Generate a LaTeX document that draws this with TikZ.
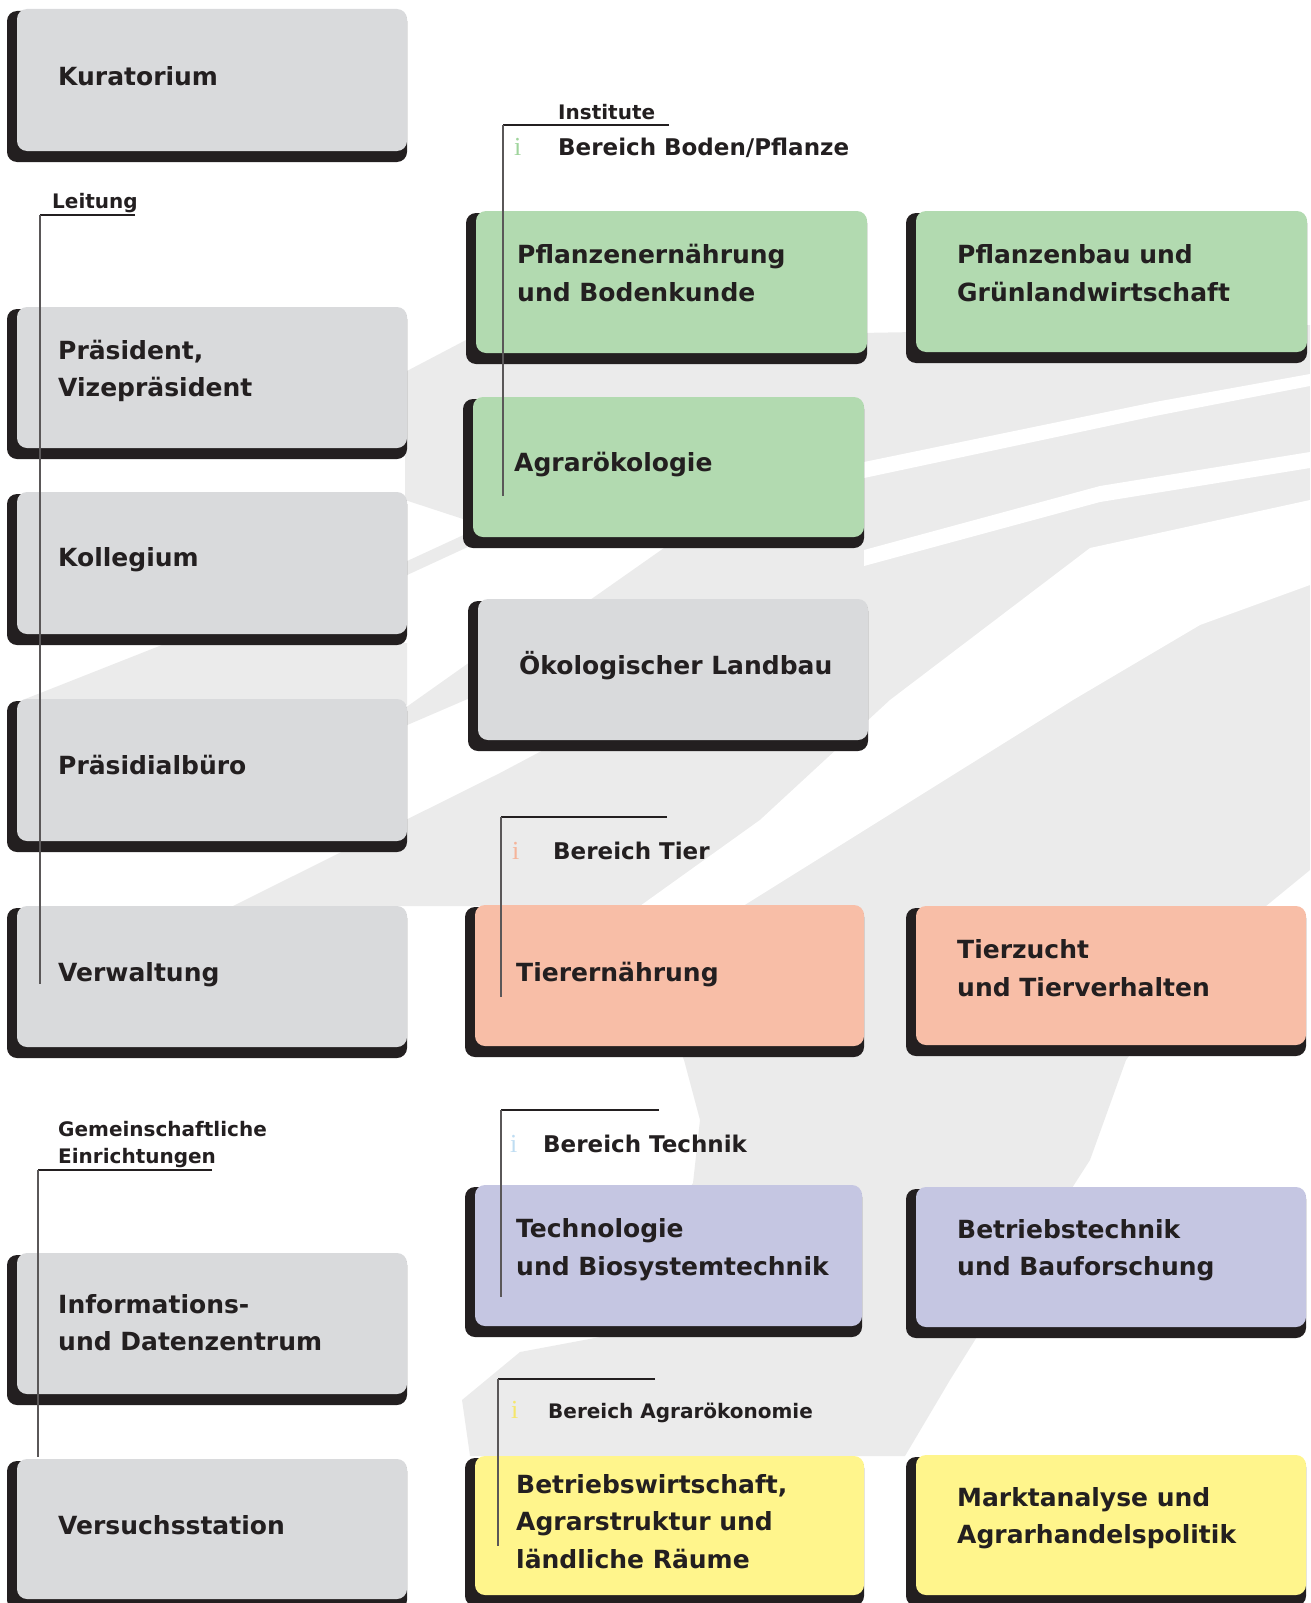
\documentclass[tikz,border=0pt]{standalone}
\usepackage{fontspec}
\setmainfont{DejaVu Sans}
\newfontfamily\ifont{Liberation Serif}
\definecolor{ink}{HTML}{231F20}
\definecolor{boxgray}{HTML}{D9DADC}
\definecolor{boxgreen}{HTML}{B2DAB0}
\definecolor{boxsalmon}{HTML}{F8BEA7}
\definecolor{boxlav}{HTML}{C5C6E2}
\definecolor{boxyel}{HTML}{FFF58C}
\definecolor{bggray}{HTML}{EBEBEB}
\definecolor{igreen}{HTML}{9FD49C}
\definecolor{isalmon}{HTML}{F5B49A}
\definecolor{iblue}{HTML}{BFDDF2}
\definecolor{iyel}{HTML}{F5E66A}
\tikzset{
  shadowbox/.style={fill=ink, rounded corners=10pt},
  btext/.style={font=\bfseries\fontsize{25}{37.3}\selectfont, text=ink, anchor=base west, inner sep=0pt, align=left},
  ltext/.style={font=\bfseries\fontsize{20}{27}\selectfont, text=ink, anchor=base west, inner sep=0pt, align=left},
  htext/.style={font=\bfseries\fontsize{23}{27}\selectfont, text=ink, anchor=base west, inner sep=0pt},
  atext/.style={font=\bfseries\fontsize{20}{27}\selectfont, text=ink, anchor=base west, inner sep=0pt},
  itext/.style={font=\ifont\fontsize{26}{26}\selectfont, anchor=base west, inner sep=0pt},
  brk/.style={draw=ink, line width=1.6pt},
  brkv/.style={draw=ink!75, line width=1.2pt},
  bg/.style={fill=bggray},
  streak/.style={fill=white}
}
% #8 = baseline of the LAST text line
\newcommand\orgbox[8]{%
  \fill[shadowbox] (#2-10,#3+2) rectangle (#4,#5+11);
  \fill[#6, rounded corners=10pt] (#2,#3) rectangle (#4,#5);
  \node[btext] (#1) at (#2+41,#8) {#7};
}
\begin{document}
\begin{tikzpicture}[x=1pt,y=-1pt]
\useasboundingbox (0,0) rectangle (1310,1603);
% ---------- background brush stroke ----------
\fill[bg] (405,372) -- (466,340) -- (1310,325) -- (1310,870) -- (1200,960) -- (1126,1060)
  -- (1090,1160) -- (1000,1300) -- (950,1380) -- (905,1456) -- (470,1456) -- (462,1400)
  -- (520,1352) -- (600,1337) -- (650,1250) -- (693,1183) -- (700,1120) -- (684,1060)
  -- (620,906) -- (233,906) -- (500,773) -- (600,720) -- (600,640) -- (590,600)
  -- (664,548) -- (466,520) -- (405,500) -- cycle;
% thin bristle stripes at the left end
\fill[bg] (405,562) -- (470,532) -- (470,546) -- (405,576) -- cycle;
\fill[bg] (405,708) -- (470,662) -- (470,698) -- (405,726) -- cycle;
\fill[bg] (10,705) -- (167,643) -- (407,643) -- (407,705) -- cycle;
% white streaks through the stroke
\fill[streak] (864,462) -- (1155,402) -- (1310,374) -- (1310,386) -- (1155,416) -- (864,478) -- cycle;
\fill[streak] (864,550) -- (1100,486) -- (1310,452) -- (1310,468) -- (1100,502) -- (864,566) -- cycle;
\fill[streak] (640,906) -- (760,820) -- (890,700) -- (1090,548) -- (1310,500) -- (1310,585)
  -- (1200,625) -- (1073,700) -- (743,906) -- cycle;

% ---------- left column ----------
\orgbox{kur}{17}{9}{407}{151}{boxgray}{Kuratorium}{85}
\orgbox{prae}{17}{307}{407}{448}{boxgray}{Präsident,\\Vizepräsident}{396.5}
\orgbox{koll}{17}{492}{407}{634}{boxgray}{Kollegium}{566.5}
\orgbox{pbuero}{17}{699}{407}{841}{boxgray}{Präsidialbüro}{774.5}
\orgbox{verw}{17}{906}{407}{1047}{boxgray}{Verwaltung}{981}
\orgbox{idz}{17}{1253}{407}{1394}{boxgray}{Informations-\\und Datenzentrum}{1350.5}
\orgbox{vst}{17}{1459}{407}{1599}{boxgray}{Versuchsstation}{1534}
% ---------- middle column ----------
\orgbox{pfe}{476}{211}{867}{353}{boxgreen}{Pflanzenernährung\\und Bodenkunde}{301}
\orgbox{agroek}{473}{397}{864}{537}{boxgreen}{Agrarökologie}{471}
\orgbox{oekl}{478}{599}{868}{740}{boxgray}{Ökologischer Landbau}{674}
\orgbox{tiern}{475}{905}{864}{1046}{boxsalmon}{Tierernährung}{981}
\orgbox{tech}{475}{1185}{862}{1326}{boxlav}{Technologie\\und Biosystemtechnik}{1275}
\orgbox{bw}{475}{1456}{864}{1595}{boxyel}{Betriebswirtschaft,\\Agrarstruktur und\\ländliche Räume}{1568}
% ---------- right column ----------
\orgbox{pfb}{916}{211}{1307}{352}{boxgreen}{Pflanzenbau und\\Grünlandwirtschaft}{301}
\orgbox{tz}{916}{906}{1306}{1045}{boxsalmon}{Tierzucht\\und Tierverhalten}{996}
\orgbox{bt}{916}{1187}{1306}{1327}{boxlav}{Betriebstechnik\\und Bauforschung}{1275.5}
\orgbox{ma}{916}{1455}{1306}{1595}{boxyel}{Marktanalyse und\\Agrarhandelspolitik}{1543.5}

% ---------- labels ----------
\node[ltext] (leitung) at (52,208) {Leitung};
\node[ltext] (institute) at (558,119) {Institute};
\node[ltext] (gemein) at (58,1163) {Gemeinschaftliche\\Einrichtungen};
\node[htext] (hboden) at (558,155) {Bereich Boden/Pflanze};
\node[htext] (htier) at (553,859) {Bereich Tier};
\node[htext] (htech) at (543,1152) {Bereich Technik};
\node[atext] (hagrar) at (548,1418) {Bereich Agrarökonomie};
\node[itext, text=igreen] (iboden) at (514,155) {i};
\node[itext, text=isalmon] (itier) at (512,859) {i};
\node[itext, text=iblue] (itech) at (510,1152) {i};
\node[itext, text=iyel] (iagrar) at (511,1418) {i};

% ---------- bracket lines ----------
\coordinate (leitA) at (40,215); \coordinate (leitB) at (135,215); \coordinate (leitC) at (40,984);
\coordinate (instA) at (503,125); \coordinate (instB) at (669,125); \coordinate (instC) at (503,496);
\coordinate (tierA) at (501,817); \coordinate (tierB) at (667,817); \coordinate (tierC) at (501,997);
\coordinate (techA) at (501,1110); \coordinate (techB) at (659,1110); \coordinate (techC) at (501,1297);
\coordinate (agrA) at (498,1379); \coordinate (agrB) at (655,1379); \coordinate (agrC) at (498,1546);
\coordinate (gemA) at (38,1170); \coordinate (gemB) at (212,1170); \coordinate (gemC) at (38,1457);
\foreach \p in {leit,inst,tier,tech,agr,gem}{
  \draw[brk] (\p B) -- (\p A);
  \draw[brkv] (\p A) -- (\p C);
}
\end{tikzpicture}
\end{document}
